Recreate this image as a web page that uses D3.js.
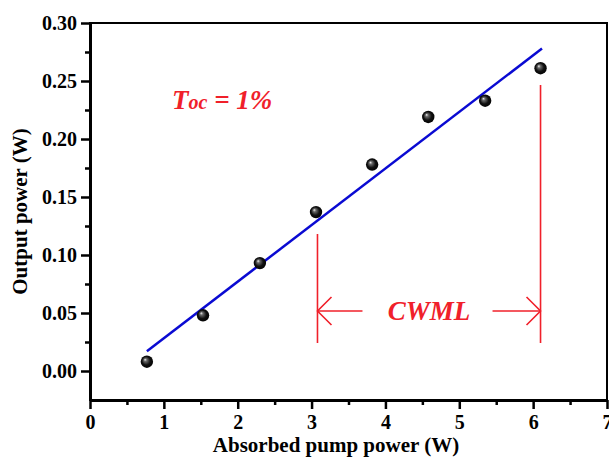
<!DOCTYPE html>
<html>
<head>
<meta charset="utf-8">
<script src="https://cdn.jsdelivr.net/npm/d3@7"></script>
<style>
  body { margin: 0; background: #fff; }
  svg { display: block; }
  svg text { font-family: "Liberation Serif", "Times New Roman", serif; }
</style>
</head>
<body>
<div id="chart"></div>
<script>
// measured data
const pumpPower = [0.77, 1.53, 2.30, 3.06, 3.82, 4.58, 5.35, 6.10]
const outPower = [0.008, 0.048, 0.093, 0.137, 0.178, 0.219, 0.233, 0.261]
// linear fit endpoints
const fitX = [0.77, 6.12]
const fitY = [0.017, 0.278]
const xTicks = [0, 1, 2, 3, 4, 5, 6, 7]
const yTicks = [0.00, 0.05, 0.10, 0.15, 0.20, 0.25, 0.30]
// CWML region bounds (W)
const cwmlRange = [3.08, 6.10]

const W = 609, H = 462
const margin = {top: 23, right: 2, bottom: 62, left: 90}
const width = W - margin.left - margin.right
const height = H - margin.top - margin.bottom
const red = "#f0202a"

const svg = d3.select("#chart").append("svg")
  .attr("width", W).attr("height", H)

const defs = svg.append("defs")
const grad = defs.append("radialGradient").attr("id", "ball")
  .attr("cx", "50%").attr("cy", "50%").attr("r", "55%")
  .attr("fx", "35%").attr("fy", "32%")
grad.append("stop").attr("offset", "0%").attr("stop-color", "#f4f4f4")
grad.append("stop").attr("offset", "22%").attr("stop-color", "#6a6a6a")
grad.append("stop").attr("offset", "60%").attr("stop-color", "#111")
grad.append("stop").attr("offset", "100%").attr("stop-color", "#000")

const g = svg.append("g").attr("transform", `translate(${margin.left},${margin.top})`)

const x = d3.scaleLinear().domain([0, 7]).range([0, width])
const y = d3.scaleLinear().domain([-0.025, 0.30]).range([height, 0])

// frame
g.append("rect").attr("width", width).attr("height", height)
  .attr("fill", "none").attr("stroke", "#000").attr("stroke-width", 2)

// minor ticks
const xMinor = d3.range(0.5, 7, 1)
const yMinor = d3.range(0.025, 0.30, 0.05)
g.append("g").attr("transform", `translate(0,${height})`)
  .call(d3.axisBottom(x).tickValues(xMinor).tickSize(5).tickFormat(""))
  .call(a => a.select(".domain").remove())
  .selectAll("line").attr("stroke-width", 2.5)
g.append("g")
  .call(d3.axisLeft(y).tickValues(yMinor).tickSize(5).tickFormat(""))
  .call(a => a.select(".domain").remove())
  .selectAll("line").attr("stroke-width", 2.5)

// major axes
const xAxis = g.append("g").attr("transform", `translate(0,${height})`)
  .call(d3.axisBottom(x).tickValues(xTicks).tickSize(9).tickSizeOuter(0).tickPadding(6).tickFormat(d3.format("d")))
const yAxis = g.append("g")
  .call(d3.axisLeft(y).tickValues(yTicks).tickSize(9).tickSizeOuter(0).tickPadding(4).tickFormat(d3.format(".2f")))
for (const a of [xAxis, yAxis]) {
  a.attr("font-family", null)
  a.select(".domain").attr("stroke-width", 3)
  a.selectAll(".tick line").attr("stroke-width", 2.5)
  a.selectAll("text")
    .style("font-family", "'Liberation Serif', serif")
    .attr("font-weight", "bold").attr("font-size", 20).attr("fill", "#000")
}

// fit line
g.append("path")
  .datum(d3.zip(fitX, fitY))
  .attr("d", d3.line().x(d => x(d[0])).y(d => y(d[1])))
  .attr("stroke", "#0a0ad2").attr("stroke-width", 2.5).attr("fill", "none")

// data points
g.selectAll("circle.pt").data(d3.zip(pumpPower, outPower)).join("circle")
  .attr("class", "pt")
  .attr("cx", d => x(d[0])).attr("cy", d => y(d[1])).attr("r", 6.2)
  .attr("fill", "url(#ball)")

// CWML annotation
const ann = g.append("g").attr("stroke", red).attr("stroke-width", 1.6).attr("fill", "none")
const xl = x(cwmlRange[0]), xr = x(cwmlRange[1])
const yArrow = 311 - margin.top
ann.append("line").attr("x1", xl).attr("x2", xl).attr("y1", 234 - margin.top).attr("y2", 343 - margin.top)
ann.append("line").attr("x1", xr).attr("x2", xr).attr("y1", 85 - margin.top).attr("y2", 343 - margin.top)
ann.append("line").attr("x1", xl).attr("x2", xl + 45).attr("y1", yArrow).attr("y2", yArrow)
ann.append("line").attr("x1", xr - 48).attr("x2", xr).attr("y1", yArrow).attr("y2", yArrow)
ann.append("path").attr("d", `M${xl + 14},${yArrow - 14}L${xl},${yArrow}L${xl + 14},${yArrow + 14}`)
ann.append("path").attr("d", `M${xr - 14},${yArrow - 14}L${xr},${yArrow}L${xr - 14},${yArrow + 14}`)

g.append("text")
  .attr("x", (xl + xr) / 2).attr("y", yArrow + 9)
  .attr("text-anchor", "middle")
  .attr("font-size", 27).attr("font-weight", "bold").attr("font-style", "italic")
  .attr("fill", red)
  .text("CWML")

// Toc label
const toc = g.append("text")
  .attr("x", 172 - margin.left).attr("y", 109 - margin.top)
  .attr("font-weight", "bold").attr("font-style", "italic").attr("fill", red)
  .attr("font-size", 27)
toc.append("tspan").text("T")
toc.append("tspan").attr("font-size", 20).text("oc")
toc.append("tspan").text(" = 1%")

// axis titles
svg.append("text")
  .attr("x", 336).attr("y", 452)
  .attr("text-anchor", "middle")
  .attr("font-size", 21).attr("font-weight", "bold")
  .text("Absorbed pump power (W)")

svg.append("text")
  .attr("transform", `translate(27,${margin.top + height / 2}) rotate(-90)`)
  .attr("text-anchor", "middle")
  .attr("font-size", 21).attr("font-weight", "bold")
  .text("Output power (W)")
</script>
</body>
</html>
